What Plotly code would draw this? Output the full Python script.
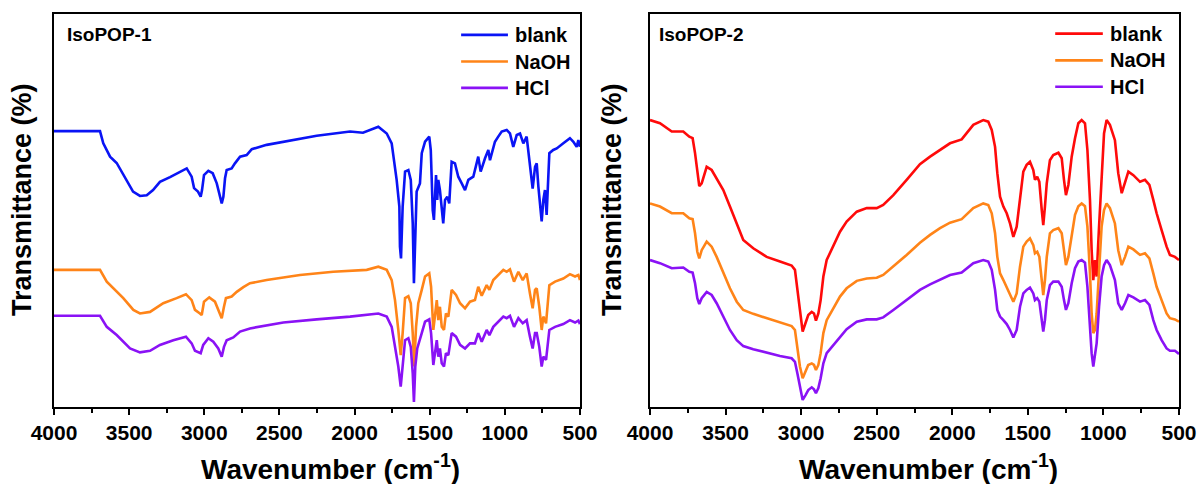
import plotly.graph_objects as go

# ---------------- IsoPOP-1 spectra (wavenumber, transmittance, offset-stacked) ----------------
iso1_blank_wn = [4000, 3694, 3672, 3627, 3583, 3516, 3474, 3428, 3383, 3341, 3295, 3228, 3140, 3117, 3084, 3068,
                 3042, 3024, 3015, 3002, 2973, 2944, 2917, 2895, 2884, 2873, 2862, 2851, 2818, 2796, 2762, 2718,
                 2684, 2585, 2474, 2252, 2030, 1944, 1842, 1786, 1753, 1731, 1720, 1702, 1698, 1691, 1680, 1664,
                 1642, 1626, 1613, 1605, 1596, 1587, 1565, 1553, 1531, 1503, 1493, 1480, 1472, 1458, 1450, 1443,
                 1432, 1420, 1410, 1398, 1383, 1370, 1354, 1332, 1310, 1287, 1265, 1243, 1210, 1177, 1161, 1132,
                 1110, 1099, 1066, 1044, 1021, 988, 966, 944, 921, 899, 877, 855, 837, 815, 799, 788, 777, 755,
                 744, 733, 722, 704, 678, 655, 611, 567, 544, 522, 511, 500]
iso1_blank_t = [70.2, 70.2, 67.1, 63.7, 62.1, 57.8, 54.8, 53.7, 53.9, 55.2, 57.3, 58.5, 60.3, 60.7, 58.6, 55.7,
                54.8, 53.5, 55.2, 59.0, 60.1, 59.5, 56.9, 53.5, 51.8, 53.5, 58.2, 60.3, 60.7, 62.0, 63.7, 64.1,
                65.6, 66.7, 67.5, 69.0, 70.1, 69.8, 71.3, 69.6, 67.1, 61.1, 57.8, 51.0, 40.8, 37.8, 51.0, 59.9,
                60.3, 57.8, 46.8, 31.5, 46.8, 54.8, 56.9, 64.6, 67.5, 68.8, 65.4, 50.1, 47.6, 59.0, 52.7, 57.8,
                55.2, 49.3, 46.7, 52.7, 53.5, 51.8, 62.4, 62.0, 58.6, 56.9, 55.2, 57.8, 58.6, 63.7, 59.9, 63.3,
                65.4, 62.8, 67.5, 68.8, 70.1, 70.5, 69.6, 66.2, 69.2, 69.6, 67.1, 68.8, 62.8, 55.6, 61.1, 62.0, 56.1, 47.2,
                52.7, 55.2, 48.9, 64.6, 65.4, 65.8, 67.1, 68.4, 67.5, 66.2, 67.9, 66.2]

iso1_naoh_wn = [4000, 3694, 3649, 3605, 3539, 3472, 3428, 3361, 3273, 3184, 3122, 3084, 3062, 3029, 3017, 3002,
                2967, 2929, 2907, 2884, 2869, 2856, 2818, 2784, 2740, 2696, 2585, 2363, 2142, 1919, 1842, 1786,
                1753, 1731, 1709, 1693, 1680, 1664, 1642, 1626, 1613, 1603, 1591, 1576, 1553, 1531, 1503, 1491,
                1476, 1465, 1453, 1443, 1432, 1420, 1405, 1392, 1376, 1354, 1325, 1298, 1265, 1232, 1199, 1177,
                1154, 1121, 1103, 1077, 1044, 1010, 988, 966, 939, 910, 881, 855, 833, 815, 799, 788, 771, 755,
                744, 726, 704, 666, 611, 567, 533, 511, 500]
iso1_naoh_t = [34.9, 34.9, 31.9, 30.2, 27.7, 24.7, 23.8, 24.2, 26.4, 27.7, 28.7, 27.2, 24.7, 23.8, 23.4, 26.8,
               27.9, 26.8, 24.7, 22.6, 25.5, 27.7, 28.1, 29.3, 30.5, 31.5, 32.3, 33.6, 34.4, 34.9, 35.7, 34.9,
               32.3, 27.2, 19.6, 13.2, 18.8, 27.7, 28.2, 26.4, 18.8, 10.3, 20.4, 26.4, 29.8, 33.2, 34.0, 30.6,
               19.6, 23.8, 27.2, 22.1, 25.5, 20.4, 19.6, 23.8, 23.0, 29.8, 28.5, 26.4, 25.1, 26.8, 27.2, 30.6,
               28.3, 31.0, 29.8, 32.3, 33.6, 34.9, 34.4, 35.0, 31.9, 34.4, 32.3, 34.0, 28.9, 25.1, 29.8, 30.2, 25.5, 19.6,
               23.0, 21.3, 31.0, 31.9, 32.7, 33.8, 33.2, 33.6, 32.3]

iso1_hcl_wn = [4000, 3694, 3649, 3583, 3494, 3428, 3361, 3295, 3206, 3122, 3084, 3062, 3024, 3007, 2973, 2940,
               2907, 2884, 2869, 2851, 2807, 2762, 2696, 2474, 2252, 2030, 1842, 1786, 1753, 1731, 1709, 1693,
               1680, 1664, 1642, 1626, 1613, 1605, 1596, 1583, 1553, 1531, 1503, 1491, 1476, 1465, 1453, 1443,
               1432, 1420, 1405, 1392, 1376, 1354, 1325, 1298, 1265, 1232, 1199, 1177, 1154, 1121, 1103, 1077,
               1044, 1010, 988, 966, 939, 910, 881, 855, 833, 815, 799, 788, 771, 755, 744, 726, 704, 666, 611,
               567, 533, 511, 500]
iso1_hcl_t = [23.2, 23.2, 20.4, 18.3, 14.9, 13.9, 14.3, 15.8, 17.0, 17.9, 16.2, 14.3, 13.7, 15.8, 17.5, 16.6,
              14.9, 12.8, 15.3, 17.0, 17.7, 19.2, 20.0, 21.5, 22.3, 23.0, 23.8, 23.0, 20.4, 15.3, 10.3, 5.2,
              10.3, 17.0, 17.5, 15.3, 8.6, 1.3, 10.3, 14.9, 18.8, 21.7, 22.3, 18.8, 10.7, 13.7, 17.0, 12.8,
              14.9, 11.1, 10.3, 13.7, 13.2, 18.8, 17.9, 15.8, 14.9, 16.2, 16.2, 18.8, 16.6, 19.6, 18.3, 20.4,
              21.7, 23.0, 22.6, 23.2, 20.4, 22.6, 21.3, 22.1, 17.9, 14.9, 18.8, 18.8, 15.3, 10.3, 12.8, 12.0, 19.6, 20.4, 21.1,
              22.1, 21.5, 22.0, 21.1]

# ---------------- IsoPOP-2 spectra ----------------
iso2_wn = [4000, 3934, 3856, 3780, 3740, 3718, 3702, 3687, 3674, 3658, 3625, 3592, 3559, 3515, 3471, 3426,
           3383, 3317, 3228, 3140, 3063, 3041, 3025, 3008, 2990, 2970, 2953, 2930, 2915, 2902, 2886, 2871,
           2853, 2831, 2787, 2743, 2699, 2632, 2566, 2500, 2457, 2390, 2302, 2214, 2147, 2081, 2015, 1938,
           1905, 1861, 1795, 1762, 1739, 1717, 1702, 1684, 1662, 1640, 1618, 1596, 1574, 1552, 1530, 1508,
           1486, 1464, 1453, 1438, 1424, 1408, 1398, 1387, 1375, 1354, 1332, 1298, 1276, 1261, 1248, 1232,
           1210, 1188, 1166, 1144, 1122, 1106, 1089, 1078, 1067, 1056, 1045, 1029, 1012, 996, 979, 957, 924,
           902, 879, 857, 835, 802, 758, 725, 696, 670, 648, 615, 582, 560, 527, 500]
iso2_blank_t = [73.0, 72.2, 70.1, 70.1, 68.8, 68.4, 64.6, 59.5, 56.2, 56.9, 61.1, 60.3, 58.2, 55.2, 51.0, 46.7,
                42.5, 40.4, 38.2, 37.0, 36.0, 34.9, 30.6, 24.7, 19.2, 21.3, 23.4, 24.2, 23.8, 22.0, 23.8, 27.2,
                33.2, 37.4, 40.8, 44.6, 47.2, 49.7, 50.6, 50.6, 51.4, 53.9, 57.8, 61.8, 63.7, 65.3, 67.1, 68.1,
                69.6, 71.8, 73.0, 72.6, 70.5, 66.2, 59.5, 53.5, 51.0, 49.3, 46.7, 43.3, 45.9, 53.5, 59.9, 61.6,
                62.4, 60.3, 57.8, 58.6, 57.3, 50.1, 46.3, 51.0, 56.9, 62.8, 64.1, 64.7, 63.3, 57.8, 53.9, 56.5,
                63.7, 68.4, 72.2, 73.0, 72.2, 65.4, 52.7, 39.9, 32.3, 37.4, 33.2, 45.9, 59.5, 69.6, 73.0, 71.8, 67.9,
                59.5, 54.4, 56.9, 59.9, 59.0, 57.3, 57.8, 56.5, 52.7, 49.3, 45.0, 40.8, 38.7, 38.2, 37.4]
iso2_naoh_t = [51.8, 51.0, 49.3, 49.3, 48.0, 47.8, 44.2, 39.5, 37.8, 39.9, 42.1, 40.8, 38.2, 34.0, 30.2, 26.8,
               24.7, 23.7, 22.6, 21.5, 20.6, 19.6, 15.3, 10.3, 7.3, 9.0, 10.7, 11.1, 10.7, 9.4, 10.7, 13.7,
               18.8, 22.1, 25.1, 28.1, 30.2, 32.1, 32.7, 32.9, 33.6, 35.7, 38.7, 41.8, 43.8, 45.5, 46.9, 47.8,
               48.9, 50.6, 51.8, 51.4, 49.3, 44.2, 38.2, 34.0, 32.3, 30.6, 28.9, 26.8, 28.9, 35.7, 40.8, 42.1,
               42.9, 41.2, 39.1, 39.5, 38.2, 32.3, 28.5, 32.3, 38.2, 44.2, 45.0, 45.5, 44.2, 39.9, 36.1, 38.2,
               44.2, 48.9, 51.1, 51.8, 51.1, 45.9, 34.0, 23.8, 18.8, 19.6, 23.8, 35.7, 45.9, 50.1, 51.8, 50.6, 46.7,
               39.9, 36.1, 38.2, 40.8, 40.1, 38.7, 39.1, 37.8, 34.0, 30.6, 27.2, 23.8, 22.6, 22.3, 21.7]
iso2_hcl_t = [37.4, 36.6, 35.3, 35.5, 34.4, 34.2, 31.5, 27.7, 26.2, 27.7, 29.3, 28.5, 26.4, 23.0, 19.6, 17.0,
              15.5, 14.7, 13.8, 13.0, 12.4, 11.5, 8.6, 4.8, 1.8, 3.1, 4.3, 5.0, 4.5, 3.5, 4.8, 7.3,
              11.1, 13.7, 15.8, 17.7, 19.8, 21.7, 22.3, 22.3, 22.8, 24.7, 27.2, 29.8, 31.2, 32.5, 33.6, 34.2,
              35.3, 36.6, 37.4, 37.0, 34.9, 29.8, 24.7, 23.0, 22.1, 21.1, 19.6, 17.7, 19.6, 25.5, 28.9, 29.8,
              30.4, 28.9, 27.2, 27.7, 26.8, 22.1, 19.2, 22.1, 27.2, 31.0, 31.9, 31.9, 30.6, 27.2, 24.7, 26.4,
              31.5, 35.3, 37.0, 37.4, 36.7, 30.6, 20.4, 13.7, 10.3, 12.8, 16.2, 25.5, 33.2, 36.1, 37.4, 36.1, 32.3,
              26.4, 24.7, 26.4, 28.5, 27.9, 26.8, 27.2, 26.0, 22.1, 19.6, 17.0, 14.9, 14.3, 14.3, 13.5]

series_names = ["blank", "NaOH", "HCl"]
panel_titles = ["IsoPOP-1", "IsoPOP-2"]
x_ticks = [4000, 3500, 3000, 2500, 2000, 1500, 1000, 500]
x_minor = [3750, 3250, 2750, 2250, 1750, 1250, 750]

colors_p1 = ["#0a14f5", "#ff8418", "#8a12f5"]
colors_p2 = ["#ff0a0a", "#ff8418", "#8a12f5"]

FONT = "Arial, 'Liberation Sans', sans-serif"
W, H = 1201, 484
X1 = [54 / W, 580 / W]
X2 = [650 / W, 1179 / W]
YD = [1 - 407 / H, 1 - 14 / H]

fig = go.Figure()

panel1 = [(iso1_blank_wn, iso1_blank_t), (iso1_naoh_wn, iso1_naoh_t), (iso1_hcl_wn, iso1_hcl_t)]
panel2 = [(iso2_wn, iso2_blank_t), (iso2_wn, iso2_naoh_t), (iso2_wn, iso2_hcl_t)]

for (wn, t), name, c in zip(panel1, series_names, colors_p1):
    fig.add_trace(go.Scatter(x=wn, y=t, mode="lines", name=name, showlegend=False,
                             line=dict(color=c, width=2.6), xaxis="x", yaxis="y"))
for (wn, t), name, c in zip(panel2, series_names, colors_p2):
    fig.add_trace(go.Scatter(x=wn, y=t, mode="lines", name=name, showlegend=False,
                             line=dict(color=c, width=2.6), xaxis="x2", yaxis="y2"))

xaxis_common = dict(
    range=[4000, 500], tickvals=x_ticks, ticktext=[str(v) for v in x_ticks],
    ticks="outside", ticklen=6, tickwidth=2, tickcolor="black",
    minor=dict(tickvals=x_minor, ticks="outside", ticklen=4, tickwidth=2, tickcolor="black"),
    showline=True, linewidth=2, linecolor="black", mirror=True,
    showgrid=False, zeroline=False, automargin=False,
    tickfont=dict(family=FONT, size=21, color="black", weight="bold"),
)
yaxis_common = dict(
    range=[0, 100], showticklabels=False, ticks="",
    showline=True, linewidth=2, linecolor="black", mirror=True,
    showgrid=False, zeroline=False, automargin=False,
)

fig.update_layout(
    width=W, height=H,
    margin=dict(l=0, r=0, t=0, b=0),
    paper_bgcolor="white", plot_bgcolor="white",
    showlegend=False,
    xaxis=dict(domain=X1, anchor="y", **xaxis_common),
    yaxis=dict(domain=YD, anchor="x", **yaxis_common),
    xaxis2=dict(domain=X2, anchor="y2", **xaxis_common),
    yaxis2=dict(domain=YD, anchor="x2", **yaxis_common),
)

annotations = []
shapes = []

# panel labels, axis titles and legends
panel_cfg = [
    dict(xr="x domain", yr="y domain", colors=colors_p1, title_x=0.021, ytitle_x=22 / W, xtitle_x=330 / W,
         leg_x0=0.774, leg_x1=0.863, leg_tx=0.872, leg_y=[0.947, 0.879, 0.812]),
    dict(xr="x2 domain", yr="y2 domain", colors=colors_p2, title_x=0.013, ytitle_x=612 / W, xtitle_x=928 / W,
         leg_x0=0.766, leg_x1=0.856, leg_tx=0.866, leg_y=[0.950, 0.882, 0.815]),
]

for cfg, ptitle in zip(panel_cfg, panel_titles):
    annotations.append(dict(text=ptitle, xref=cfg["xr"], yref=cfg["yr"], x=cfg["title_x"], y=0.947,
                            xanchor="left", yanchor="middle", showarrow=False,
                            font=dict(family=FONT, size=19, color="black", weight="bold")))
    annotations.append(dict(text="Transmittance (%)", xref="paper", yref="paper", x=cfg["ytitle_x"],
                            y=1 - 200 / H, textangle=-90, xanchor="center", yanchor="middle",
                            showarrow=False, font=dict(family=FONT, size=27, color="black", weight="bold")))
    annotations.append(dict(text="Wavenumber (cm<sup>-1</sup>)", xref="paper", yref="paper",
                            x=cfg["xtitle_x"], y=1 - 467 / H, xanchor="center", yanchor="middle",
                            showarrow=False, font=dict(family=FONT, size=28, color="black", weight="bold")))
    for name, c, ly in zip(series_names, cfg["colors"], cfg["leg_y"]):
        shapes.append(dict(type="line", xref=cfg["xr"], yref=cfg["yr"], x0=cfg["leg_x0"], x1=cfg["leg_x1"],
                           y0=ly, y1=ly, line=dict(color=c, width=2.6)))
        annotations.append(dict(text=name, xref=cfg["xr"], yref=cfg["yr"], x=cfg["leg_tx"], y=ly,
                                xanchor="left", yanchor="middle", showarrow=False,
                                font=dict(family=FONT, size=20, color="black", weight="bold")))

fig.update_layout(annotations=annotations, shapes=shapes)

fig.write_html("out.html")
